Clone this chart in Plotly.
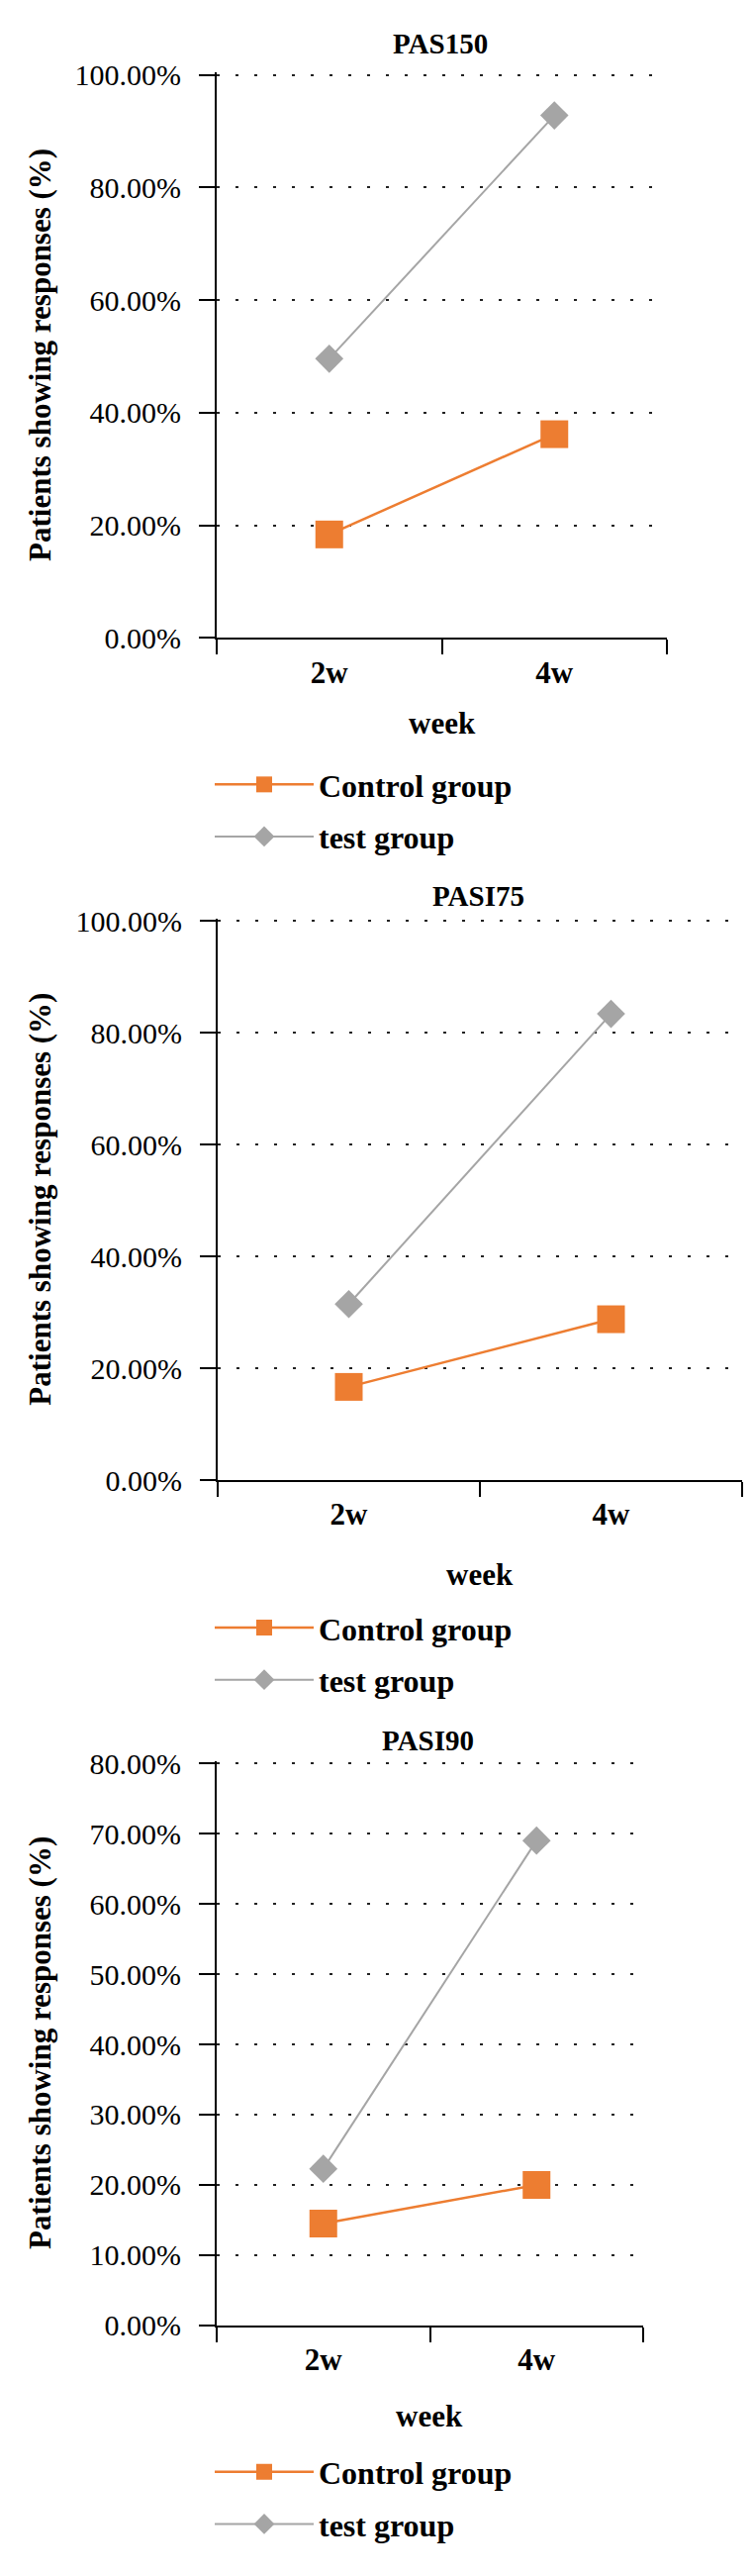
import plotly.graph_objects as go

# ---------------- data ----------------
weeks = ["2w", "4w"]
series_names = ["Control group", "test group"]

pasi50_control = [0.184, 0.362]
pasi50_test = [0.496, 0.928]

pasi75_control = [0.167, 0.288]
pasi75_test = [0.315, 0.834]

pasi90_control = [0.145, 0.200]
pasi90_test = [0.223, 0.690]

panel_titles = ["PAS150", "PASI75", "PASI90"]
y_title = "Patients showing responses (%)"
x_title = "week"

ORANGE = "#ED7D31"
GRAY = "#A5A5A5"
FONT = "Liberation Serif, Times New Roman, Times, serif"

W, H = 761, 2602
OFF = 8  # page body margin


def fx(px):
    return (px - OFF) / W


def fy(py):
    return 1 - (py - OFF) / H


# panel geometry (pixels)
panels = [
    dict(l=219, r=674, t=60, b=638, ymax=1.0, dtick=0.2,
         title_y=30, xlab_y=725, leg_y=760,
         control=pasi50_control, test=pasi50_test),
    dict(l=220, r=750, t=925, b=1499, ymax=1.0, dtick=0.2,
         title_y=902, xlab_y=1595, leg_y=1622,
         control=pasi75_control, test=pasi75_test),
    dict(l=219, r=650, t=1786, b=2363, ymax=0.8, dtick=0.1,
         title_y=1765, xlab_y=2456, leg_y=2485,
         control=pasi90_control, test=pasi90_test),
]

fig = go.Figure()
annotations = []
layout_axes = {}

for i, p in enumerate(panels):
    n = "" if i == 0 else str(i + 1)
    xa, ya = "x" + n, "y" + n
    leg = "legend" + n
    fig.add_trace(go.Scatter(
        x=weeks, y=p["control"], name=series_names[0], mode="lines+markers",
        line=dict(color=ORANGE, width=2.5),
        marker=dict(symbol="square", size=28, color=ORANGE),
        xaxis=xa, yaxis=ya, legend=leg, legendgroup=f"c{i}", cliponaxis=False))
    fig.add_trace(go.Scatter(
        x=weeks, y=p["test"], name=series_names[1], mode="lines+markers",
        line=dict(color=GRAY, width=2),
        marker=dict(symbol="diamond", size=22, color=GRAY),
        xaxis=xa, yaxis=ya, legend=leg, legendgroup=f"t{i}", cliponaxis=False))

    layout_axes["xaxis" + n] = dict(
        domain=[fx(p["l"]), fx(p["r"])], anchor=ya,
        type="category", range=[-0.5, 1.5], tickson="boundaries",
        showline=True, linecolor="black", linewidth=2,
        ticks="outside", ticklen=15, tickwidth=2, tickcolor="black",
        showgrid=False, zeroline=False, ticklabelstandoff=6,
        tickfont=dict(family=FONT, size=31, color="black", weight="bold"))
    layout_axes["yaxis" + n] = dict(
        domain=[fy(p["b"]), fy(p["t"])], anchor=xa,
        range=[0, p["ymax"] * 1.004], dtick=p["dtick"], tick0=0, tickformat=".2%",
        showline=True, linecolor="black", linewidth=2,
        ticks="outside", ticklen=16, tickwidth=2, tickcolor="black",
        showgrid=True, gridcolor="#222", gridwidth=1.5, griddash="3px,16px",
        zeroline=False, ticklabelstandoff=12,
        tickfont=dict(family=FONT, size=30, color="black"))

    layout_axes[leg] = dict(
        x=fx(212), xanchor="left", y=fy(p["leg_y"]), yanchor="top",
        orientation="v", bgcolor="rgba(0,0,0,0)", itemwidth=100,
        tracegroupgap=8, traceorder="grouped",
        font=dict(family=FONT, size=32, color="black", weight="bold"))

    annotations.append(dict(
        text=panel_titles[i], xref="paper", yref="paper",
        x=fx((p["l"] + p["r"]) / 2 - 2), y=fy(p["title_y"]),
        xanchor="center", yanchor="middle", showarrow=False,
        font=dict(family=FONT, size=29, color="black", weight="bold")))
    annotations.append(dict(
        text=x_title, xref="paper", yref="paper",
        x=fx((p["l"] + p["r"]) / 2), y=fy(p["xlab_y"]),
        xanchor="center", yanchor="middle", showarrow=False,
        font=dict(family=FONT, size=31, color="black", weight="bold")))
    annotations.append(dict(
        text=y_title, xref="paper", yref="paper", textangle=-90,
        x=fx(41), y=fy((p["t"] + p["b"]) / 2),
        xanchor="center", yanchor="middle", showarrow=False,
        font=dict(family=FONT, size=31, color="black", weight="bold")))

fig.update_layout(
    width=W, height=H, autosize=False,
    margin=dict(l=0, r=0, t=0, b=0),
    paper_bgcolor="white", plot_bgcolor="white",
    showlegend=True, annotations=annotations,
    **layout_axes)

fig.write_html("out.html")
